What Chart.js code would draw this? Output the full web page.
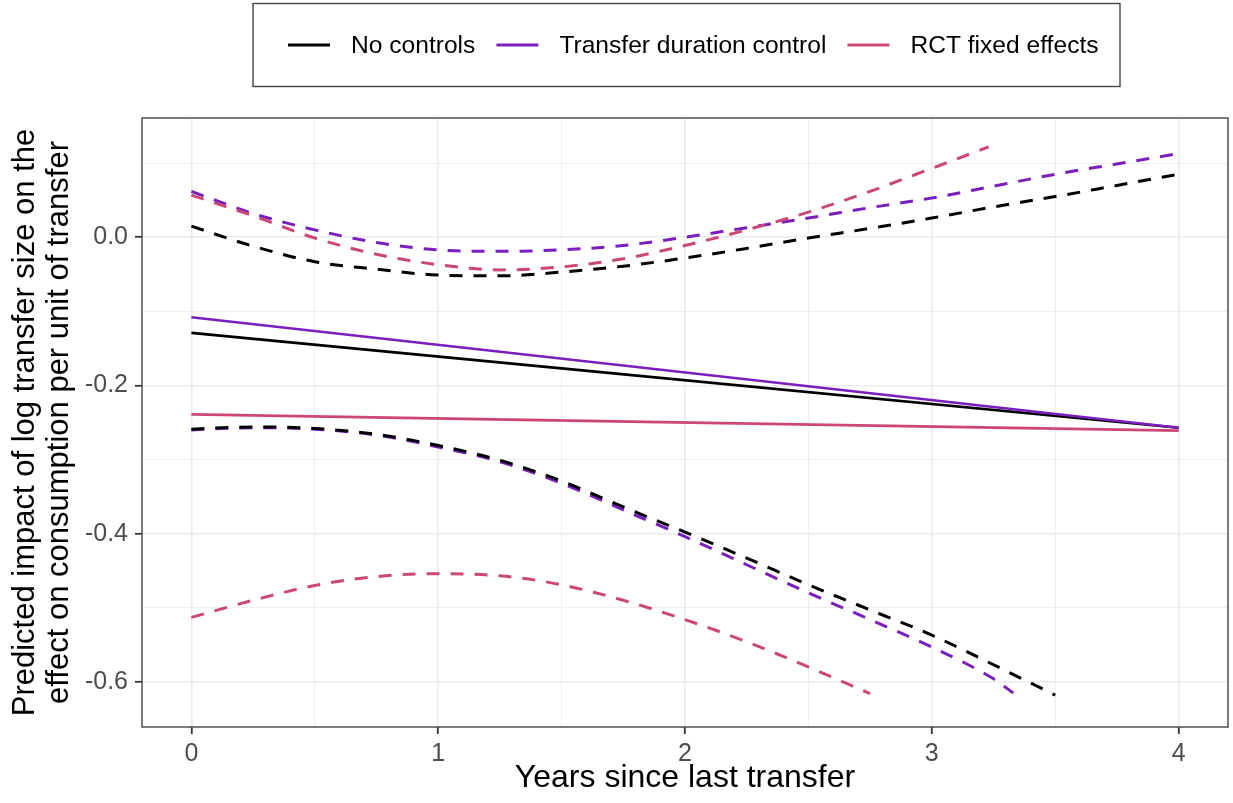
<!DOCTYPE html>
<html>
<head>
<meta charset="utf-8">
<title>Predicted impact of log transfer size</title>
<script src="https://cdn.jsdelivr.net/npm/chart.js@4.4.1/dist/chart.umd.min.js"></script>
<style>
  html, body { margin: 0; padding: 0; background: #ffffff; }
  #wrap { width: 1233px; height: 803px; }
</style>
</head>
<body>
<div id="wrap"><canvas id="chart" width="1233" height="803"></canvas></div>
<script>
// ---- Series names and colours ----
const seriesNames = ['No controls', 'Transfer duration control', 'RCT fixed effects'];
const seriesColors = ['#000000', '#7a1fbd', '#cc4778'];

// ---- Point estimates (straight fits over 0–4 years) ----
const fitYears = [0, 4];
const noControlsFit = [-0.129, -0.257];
const durationFit = [-0.108, -0.257];
const rctFit = [-0.239, -0.261];

// ---- Upper confidence bounds ----
const noControlsUpperYears = [0, 0.25, 0.5, 0.75, 1, 1.25, 1.5, 1.75, 2, 2.25, 2.5, 2.75, 3, 3.25, 3.5, 3.75, 4];
const noControlsUpper = [0.015, -0.012, -0.033, -0.043, -0.051, -0.052, -0.047, -0.039, -0.028, -0.015, -0.001, 0.012, 0.026, 0.041, 0.055, 0.070, 0.085];

const durationUpperYears = [0, 0.25, 0.5, 0.75, 1, 1.25, 1.5, 1.75, 2, 2.25, 2.5, 2.75, 3, 3.25, 3.5, 3.75, 4];
const durationUpper = [0.062, 0.032, 0.010, -0.007, -0.017, -0.019, -0.017, -0.011, 0.000, 0.013, 0.026, 0.040, 0.053, 0.069, 0.085, 0.099, 0.113];

const rctUpperYears = [0, 0.25, 0.5, 0.75, 1, 1.25, 1.5, 1.75, 2, 2.25, 2.5, 2.75, 3, 3.23];
const rctUpper = [0.057, 0.029, -0.001, -0.023, -0.037, -0.044, -0.040, -0.029, -0.011, 0.010, 0.034, 0.062, 0.093, 0.122];

// ---- Lower confidence bounds ----
const noControlsLowerYears = [0, 0.25, 0.5, 0.75, 1, 1.25, 1.5, 1.75, 2, 2.25, 2.5, 2.75, 3, 3.25, 3.5];
const noControlsLower = [-0.259, -0.256, -0.258, -0.266, -0.281, -0.301, -0.329, -0.364, -0.398, -0.433, -0.469, -0.503, -0.537, -0.577, -0.618];

const durationLowerYears = [0, 0.25, 0.5, 0.75, 1, 1.25, 1.5, 1.75, 2, 2.25, 2.5, 2.75, 3, 3.25, 3.33];
const durationLower = [-0.260, -0.257, -0.259, -0.267, -0.283, -0.303, -0.332, -0.368, -0.404, -0.442, -0.480, -0.516, -0.553, -0.596, -0.615];

const rctLowerYears = [0, 0.25, 0.5, 0.75, 1, 1.25, 1.5, 1.75, 2, 2.25, 2.5, 2.75];
const rctLower = [-0.513, -0.490, -0.470, -0.458, -0.454, -0.457, -0.469, -0.490, -0.516, -0.546, -0.580, -0.616];

// ---- Axis ticks ----
const xMajorTicks = [0, 1, 2, 3, 4];
const xMinorTicks = [0.5, 1.5, 2.5, 3.5];
const yMajorTicks = [-0.6, -0.4, -0.2, 0.0];
const yMinorTicks = [-0.5, -0.3, -0.1, 0.1];
const xTickLabels = ['0', '1', '2', '3', '4'];
const yTickLabels = ['-0.6', '-0.4', '-0.2', '0.0'];

const xTitle = 'Years since last transfer';
const yTitle = ['Predicted impact of log transfer size on the', 'effect on consumption per unit of transfer'];

const FONT = '"Liberation Sans", Arial, Helvetica, sans-serif';

function toPoints(xs, ys) {
  return xs.map((x, i) => ({ x: x, y: ys[i] }));
}

function series(label, xs, ys, color, dashed, order) {
  return {
    label: label,
    data: toPoints(xs, ys),
    borderColor: color,
    backgroundColor: color,
    borderWidth: dashed ? 3 : 2.6,
    borderDash: dashed ? [13, 11] : [],
    pointRadius: 0,
    pointHoverRadius: 0,
    fill: false,
    cubicInterpolationMode: 'monotone',
    order: order
  };
}

const datasets = [
  series(seriesNames[0], fitYears, noControlsFit, seriesColors[0], false, 5),
  series(seriesNames[1], fitYears, durationFit, seriesColors[1], false, 4),
  series(seriesNames[2], fitYears, rctFit, seriesColors[2], false, 3),
  series(seriesNames[1] + ' upper', durationUpperYears, durationUpper, seriesColors[1], true, 2),
  series(seriesNames[1] + ' lower', durationLowerYears, durationLower, seriesColors[1], true, 2),
  series(seriesNames[0] + ' upper', noControlsUpperYears, noControlsUpper, seriesColors[0], true, 1),
  series(seriesNames[0] + ' lower', noControlsLowerYears, noControlsLower, seriesColors[0], true, 1),
  series(seriesNames[2] + ' upper', rctUpperYears, rctUpper, seriesColors[2], true, 0),
  series(seriesNames[2] + ' lower', rctLowerYears, rctLower, seriesColors[2], true, 0)
];

// Frame around the plotting panel, drawn over the lines
const panelBorder = {
  id: 'panelBorder',
  afterDatasetsDraw(chart) {
    const a = chart.chartArea;
    const ctx = chart.ctx;
    ctx.save();
    ctx.strokeStyle = '#444444';
    ctx.lineWidth = 1.4;
    ctx.strokeRect(a.left, a.top, a.right - a.left, a.bottom - a.top);
    ctx.restore();
  }
};

// Boxed horizontal legend above the panel
const boxedLegend = {
  id: 'boxedLegend',
  afterDraw(chart) {
    const ctx = chart.ctx;
    ctx.save();
    ctx.strokeStyle = '#444444';
    ctx.lineWidth = 1.4;
    ctx.strokeRect(253, 3.5, 867, 83);
    ctx.font = '24.6px ' + FONT;
    ctx.textBaseline = 'middle';
    ctx.textAlign = 'left';
    let x = 288;
    const cy = 45;
    seriesNames.forEach((name, i) => {
      ctx.strokeStyle = seriesColors[i];
      ctx.lineWidth = 2.8;
      ctx.setLineDash([]);
      ctx.beginPath();
      ctx.moveTo(x, cy);
      ctx.lineTo(x + 42, cy);
      ctx.stroke();
      x += 42 + 21;
      ctx.fillStyle = '#000000';
      ctx.fillText(name, x, cy + 1);
      x += ctx.measureText(name).width + 21;
    });
    ctx.restore();
  }
};

const isMajor = (list, c) => c && c.tick && list.indexOf(c.tick.value) !== -1;

new Chart(document.getElementById('chart'), {
  type: 'line',
  data: { datasets: datasets },
  options: {
    responsive: false,
    animation: false,
    devicePixelRatio: 1,
    layout: { padding: { top: 118, right: 5, bottom: 0, left: 0 } },
    plugins: {
      legend: { display: false },
      tooltip: { enabled: false },
      title: { display: false }
    },
    scales: {
      x: {
        type: 'linear',
        min: -0.2,
        max: 4.2,
        afterBuildTicks: s => { s.ticks = xMajorTicks.concat(xMinorTicks).sort((a, b) => a - b).map(v => ({ value: v })); },
        afterFit: s => { s.height = 76; },
        ticks: {
          autoSkip: false,
          maxRotation: 0,
          padding: 5,
          color: '#4d4d4d',
          font: { family: FONT, size: 25 },
          callback: v => { const i = xMajorTicks.indexOf(v); return i === -1 ? '' : xTickLabels[i]; }
        },
        grid: {
          color: '#ebebeb',
          lineWidth: c => isMajor(xMajorTicks, c) ? 1.6 : 0.8,
          tickColor: c => isMajor(xMajorTicks, c) ? '#333333' : 'rgba(0,0,0,0)',
          tickLength: 7,
          tickWidth: 1.8
        },
        border: { display: false },
        title: {
          display: true,
          text: xTitle,
          color: '#000000',
          font: { family: FONT, size: 32, lineHeight: '34px' },
          padding: { top: 0, bottom: 8 }
        }
      },
      y: {
        type: 'linear',
        min: -0.661,
        max: 0.161,
        afterBuildTicks: s => { s.ticks = yMajorTicks.concat(yMinorTicks).sort((a, b) => a - b).map(v => ({ value: v })); },
        afterFit: s => { s.width = 142; },
        ticks: {
          autoSkip: false,
          padding: 7,
          color: '#4d4d4d',
          font: { family: FONT, size: 25 },
          callback: v => { const i = yMajorTicks.indexOf(v); return i === -1 ? '' : yTickLabels[i]; }
        },
        grid: {
          color: '#ebebeb',
          lineWidth: c => isMajor(yMajorTicks, c) ? 1.6 : 0.8,
          tickColor: c => isMajor(yMajorTicks, c) ? '#333333' : 'rgba(0,0,0,0)',
          tickLength: 7,
          tickWidth: 1.8
        },
        border: { display: false },
        title: {
          display: true,
          text: yTitle,
          color: '#000000',
          font: { family: FONT, size: 31, lineHeight: '34px' },
          padding: { top: 8, bottom: 0 }
        }
      }
    }
  },
  plugins: [panelBorder, boxedLegend]
});
</script>
</body>
</html>
